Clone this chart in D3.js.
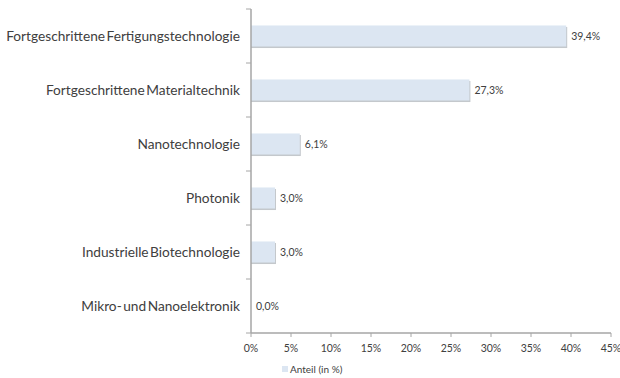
<!DOCTYPE html>
<html><head><meta charset="utf-8">
<script src="https://cdn.jsdelivr.net/npm/d3@7"></script>
<style>
body{margin:0;background:#fff;}
svg text{font-family:"Lato","Noto Sans",sans-serif;fill:#404040;}
</style></head>
<body><svg id="c" width="620" height="378"></svg>
<script>
const categories = [
  "Fortgeschrittene Fertigungstechnologie",
  "Fortgeschrittene Materialtechnik",
  "Nanotechnologie",
  "Photonik",
  "Industrielle Biotechnologie",
  "Mikro- und Nanoelektronik"
];
const values = [39.4, 27.3, 6.1, 3.0, 3.0, 0.0];
const valueLabels = ["39,4%", "27,3%", "6,1%", "3,0%", "3,0%", "0,0%"];
const xTicks = [0, 5, 10, 15, 20, 25, 30, 35, 40, 45];
const seriesName = "Anteil (in %)";

const svg = d3.select("#c");
const plotLeft = 251, plotRight = 611, plotTop = 9, plotBottom = 333;
const axisColor = "#a6a6a6", barColor = "#dce6f2";

const x = d3.scaleLinear().domain([0, 45]).range([plotLeft, plotRight]);
const y = d3.scaleBand().domain(categories).range([plotTop, plotBottom]).paddingInner(0.61).paddingOuter(0.305);
const yb = d3.scaleBand().domain(categories).range([plotTop, plotBottom]);

// bar shadow
svg.append("g").selectAll("rect").data(values).join("rect")
  .attr("x", x(0)).attr("y", (d, i) => y(categories[i]) + 1.5)
  .attr("width", d => d > 0 ? x(d) - x(0) + 1 : 0)
  .attr("height", y.bandwidth())
  .attr("fill", "#c4c8cc");
svg.append("g").selectAll("rect").data(values).join("rect")
  .attr("x", x(0)).attr("y", (d, i) => y(categories[i]))
  .attr("width", d => x(d) - x(0))
  .attr("height", y.bandwidth())
  .attr("fill", barColor);

// value labels
svg.append("g").selectAll("text").data(values).join("text")
  .attr("x", d => x(d) + 5)
  .attr("y", (d, i) => y(categories[i]) + y.bandwidth() / 2)
  .attr("dy", "0.35em")
  .attr("font-size", 10.5)
  .text((d, i) => valueLabels[i]);

// y axis
const ya = svg.append("g");
ya.append("line").attr("x1", plotLeft).attr("x2", plotLeft).attr("y1", plotTop).attr("y2", plotBottom)
  .attr("stroke", axisColor).attr("stroke-width", 1.5);
const bounds = categories.map(c => yb(c)).concat([plotBottom]);
ya.selectAll("line.t").data(bounds).join("line").attr("class", "t")
  .attr("x1", plotLeft - 5).attr("x2", plotLeft).attr("y1", d => d).attr("y2", d => d)
  .attr("stroke", axisColor);
ya.selectAll("text").data(categories).join("text")
  .attr("x", 240).attr("y", d => yb(d) + yb.bandwidth() / 2)
  .attr("dy", "0.35em").attr("text-anchor", "end").attr("font-size", 13.7)
  .attr("word-spacing", "-2px")
  .text(d => d);

// x axis
const xa = svg.append("g");
xa.append("line").attr("x1", plotLeft).attr("x2", plotRight).attr("y1", plotBottom).attr("y2", plotBottom)
  .attr("stroke", axisColor).attr("stroke-width", 1.5);
xa.selectAll("line.t").data(xTicks).join("line").attr("class", "t")
  .attr("x1", d => x(d)).attr("x2", d => x(d)).attr("y1", plotBottom).attr("y2", plotBottom + 4)
  .attr("stroke", axisColor);
xa.selectAll("text").data(xTicks).join("text")
  .attr("x", d => x(d)).attr("y", plotBottom + 15).attr("dy", "0.35em")
  .attr("text-anchor", "middle").attr("font-size", 10.5)
  .text(d => d + "%");

// legend
const lg = svg.append("g").attr("transform", "translate(282,366)");
lg.append("rect").attr("x", 0).attr("y", 0).attr("width", 6).attr("height", 6).attr("fill", barColor);
lg.append("text").attr("x", 8).attr("y", 3).attr("dy", "0.35em").attr("font-size", 10).text(seriesName);
</script></body></html>
